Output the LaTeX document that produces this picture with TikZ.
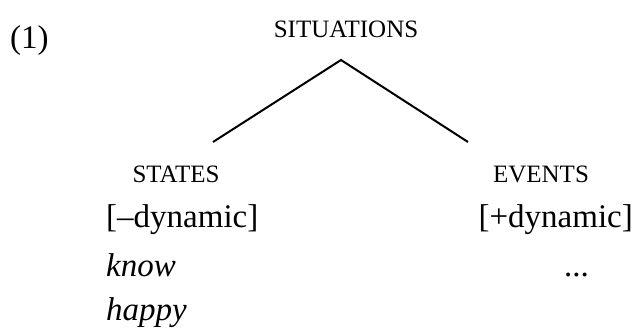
\documentclass[tikz,border=0pt]{standalone}
\usepackage{fontspec}
\setmainfont{Liberation Serif}
\begin{document}
\begin{tikzpicture}[x=1pt,y=1pt,
  txt/.style={inner sep=0pt, font=\fontsize{33}{40}\selectfont},
  cat/.style={inner sep=0pt, font=\fontsize{25}{30}\selectfont},
  branch/.style={line width=2pt}]
  \useasboundingbox (0,0) rectangle (633,329);
  % example number and root label
  \node[txt, anchor=base west] (num) at (10,280) {(1)};
  \node[cat, anchor=base] (sit) at (346,291) {SITUATIONS};
  % the branching
  \coordinate (apex) at (341,269);
  \coordinate (lend) at (213,187);
  \coordinate (rend) at (468,187);
  \draw[branch] (lend) -- (apex) -- (rend);
  % daughter categories
  \node[cat, anchor=base] (states) at (176,146) {STATES};
  \node[cat, anchor=base] (events) at (541,146) {EVENTS};
  % features and examples
  \node[txt, anchor=base west] (minus) at (106,101) {[--dynamic]};
  \node[txt, anchor=base east] (plus) at (633,101) {[+dynamic]};
  \node[txt, anchor=base west] (know) at (106,52) {\itshape know};
  \node[txt, anchor=base west] (dots) at (564,52) {...};
  \node[txt, anchor=base west] (happy) at (106,8) {\itshape happy};
\end{tikzpicture}
\end{document}
